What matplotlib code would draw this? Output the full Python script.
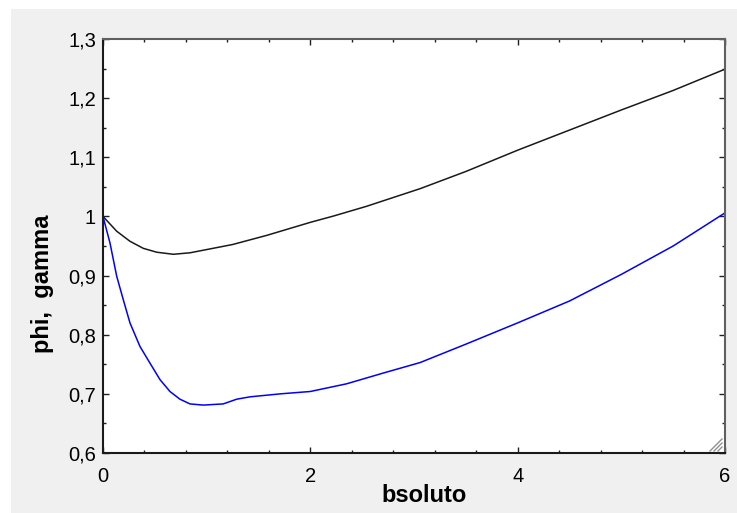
import matplotlib
matplotlib.use("Agg")
import matplotlib.pyplot as plt
from matplotlib.ticker import MultipleLocator, FuncFormatter
from matplotlib.patches import Rectangle
from matplotlib.lines import Line2D

plt.rcParams['font.family'] = ['Liberation Sans', 'DejaVu Sans']

# phi (osmotic coefficient) vs molality
phi_b = [0.0, 0.132, 0.26, 0.389, 0.518, 0.678, 0.839, 1.03, 1.25, 1.58,
         2.0, 2.22, 2.54, 3.06, 3.5, 4.0, 4.5, 5.0, 5.5, 6.0]
phi = [1.0, 0.975, 0.958, 0.946, 0.9395, 0.936, 0.9385, 0.945, 0.9525, 0.968,
       0.99, 1.0005, 1.017, 1.047, 1.076, 1.112, 1.146, 1.180, 1.213, 1.249]

# gamma (activity coefficient) vs molality
gamma_b = [0.0, 0.0675, 0.132, 0.196, 0.26, 0.357, 0.453, 0.55, 0.646, 0.742,
           0.839, 0.967, 1.16, 1.29, 1.42, 1.71, 2.0, 2.35, 2.7, 3.06, 3.5,
           4.0, 4.5, 5.0, 5.5, 6.0]
gamma = [1.0, 0.955, 0.899, 0.859, 0.820, 0.780, 0.752, 0.724, 0.704, 0.691,
         0.683, 0.681, 0.683, 0.691, 0.695, 0.700, 0.704, 0.717, 0.735, 0.753,
         0.784, 0.820, 0.857, 0.902, 0.950, 1.006]

x_label = "bsoluto"
y_label = "phi,  gamma"

W, H = 737, 513
fig = plt.figure(figsize=(W / 100, H / 100), dpi=100, facecolor="white")

# grey window panel
fig.patches.append(Rectangle((11 / W, 0), 1 - 11 / W, 1 - 9 / H,
                             transform=fig.transFigure, facecolor="#f0f0f0",
                             edgecolor="none", zorder=-10))

ax = fig.add_axes([103 / W, (H - 453) / H, 622 / W, 414 / H])
ax.set_facecolor("white")

ax.plot(phi_b, phi, color="#1a1a1a", lw=1.1)
ax.plot(gamma_b, gamma, color="#0000ff", lw=1.1)

ax.set_xlim(0, 6)
ax.set_ylim(0.6, 1.3)
ax.xaxis.set_major_locator(MultipleLocator(2))
ax.xaxis.set_minor_locator(MultipleLocator(0.4))
ax.yaxis.set_major_locator(MultipleLocator(0.1))
ax.yaxis.set_minor_locator(MultipleLocator(0.05))


def comma_fmt(v, pos):
    s = f"{v:.1f}".rstrip("0").rstrip(".")
    return s.replace(".", ",")


ax.xaxis.set_major_formatter(FuncFormatter(comma_fmt))
ax.yaxis.set_major_formatter(FuncFormatter(comma_fmt))

ax.tick_params(which="both", direction="in", top=True, right=True,
               color="#202020", width=1.0)
ax.tick_params(which="major", length=4.0, labelsize=14.5)
ax.tick_params(which="minor", length=2.4)
ax.tick_params(axis="x", which="major", pad=10)
ax.tick_params(axis="y", which="major", pad=5)

for side in ("left", "bottom"):
    ax.spines[side].set_color("#1a1a1a")
    ax.spines[side].set_linewidth(1.5)
for side in ("top", "right"):
    ax.spines[side].set_color("#606060")
    ax.spines[side].set_linewidth(1.5)

ax.set_xlabel(x_label, fontsize=17, fontweight="bold")
ax.set_ylabel(y_label, fontsize=17, fontweight="bold")
ax.xaxis.set_label_coords(0.516, -0.075)
ax.yaxis.set_label_coords(-0.079, 0.41)

# window size grip in the lower right corner
for k in range(3):
    d = 4 + 4 * k
    ax.add_line(Line2D([1 - 3 / 622, 1 - (3 + d) / 622],
                       [(2 + d) / 414, 2 / 414],
                       transform=ax.transAxes, color="#909090", lw=1.0))

fig.savefig("out.png", dpi=100, facecolor=fig.get_facecolor())
